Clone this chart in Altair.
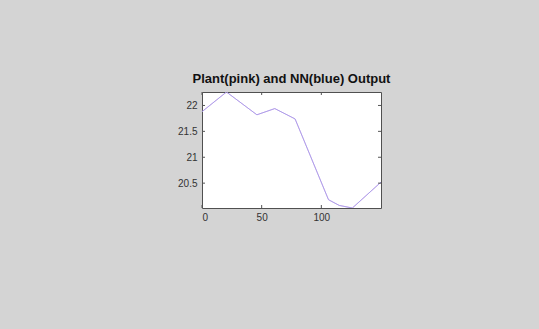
import altair as alt
import pandas as pd

x_vals = [0, 20.5, 46, 61, 78, 106, 115, 126, 150]
y_vals = [21.88, 22.26, 21.82, 21.94, 21.74, 20.18, 20.07, 20.02, 20.52]
series = ["Plant", "NN"]
x_ticks = [0, 50, 100]
y_ticks = [20.5, 21, 21.5, 22]

rows = []
for s in series:
    for xv, yv in zip(x_vals, y_vals):
        rows.append({"t": xv, "v": yv, "s": s})
df = pd.DataFrame(rows)

xs = alt.Scale(domain=[0, 150], nice=False, zero=False)
ys = alt.Scale(domain=[20.02, 22.26], nice=False, zero=False)

xa = alt.Axis(values=x_ticks, title=None, grid=False, tickSize=0,
              labelPadding=4, domain=False, labelOverlap=False)
ya = alt.Axis(values=y_ticks, title=None, grid=False, tickSize=0,
              labelPadding=5, domain=False, format="~g", labelOverlap=False)

W, H = 179, 116

lines = alt.Chart(df).mark_line(strokeWidth=1, clip=True).encode(
    x=alt.X("t:Q", scale=xs, axis=xa),
    y=alt.Y("v:Q", scale=ys, axis=ya),
    color=alt.Color("s:N", scale=alt.Scale(domain=series, range=["#d99ae4", "#9a9aea"]), legend=None),
    opacity=alt.value(0.75),
)

xt = pd.DataFrame({"t": x_ticks})
yt = pd.DataFrame({"v": y_ticks})

ticks_bottom = alt.Chart(xt).mark_rule(color="#555555", strokeWidth=1).encode(
    x=alt.X("t:Q", scale=xs, axis=xa), y=alt.value(H), y2=alt.value(H - 3))
ticks_top = alt.Chart(xt).mark_rule(color="#555555", strokeWidth=1).encode(
    x=alt.X("t:Q", scale=xs, axis=xa), y=alt.value(0), y2=alt.value(3))
ticks_left = alt.Chart(yt).mark_rule(color="#555555", strokeWidth=1).encode(
    y=alt.Y("v:Q", scale=ys, axis=ya), x=alt.value(0), x2=alt.value(3))
ticks_right = alt.Chart(yt).mark_rule(color="#555555", strokeWidth=1).encode(
    y=alt.Y("v:Q", scale=ys, axis=ya), x=alt.value(W), x2=alt.value(W - 3))

chart = alt.layer(lines, ticks_bottom, ticks_top, ticks_left, ticks_right).properties(
    width=W, height=H,
    title=alt.Title("Plant(pink) and NN(blue) Output", fontSize=13, fontWeight="bold",
                    font="Liberation Sans", color="#111111", offset=6),
    autosize=alt.AutoSizeParams(type="none"),
    padding={"left": 202, "top": 92, "right": 158, "bottom": 121},
    background="#d4d4d4",
).configure_view(
    fill="white", stroke="#505050", strokeWidth=1
).configure_axis(
    labelFont="Liberation Sans", labelFontSize=10, labelColor="#333333"
)

chart.save("out.html", embed_options={"renderer": "svg", "actions": False})
